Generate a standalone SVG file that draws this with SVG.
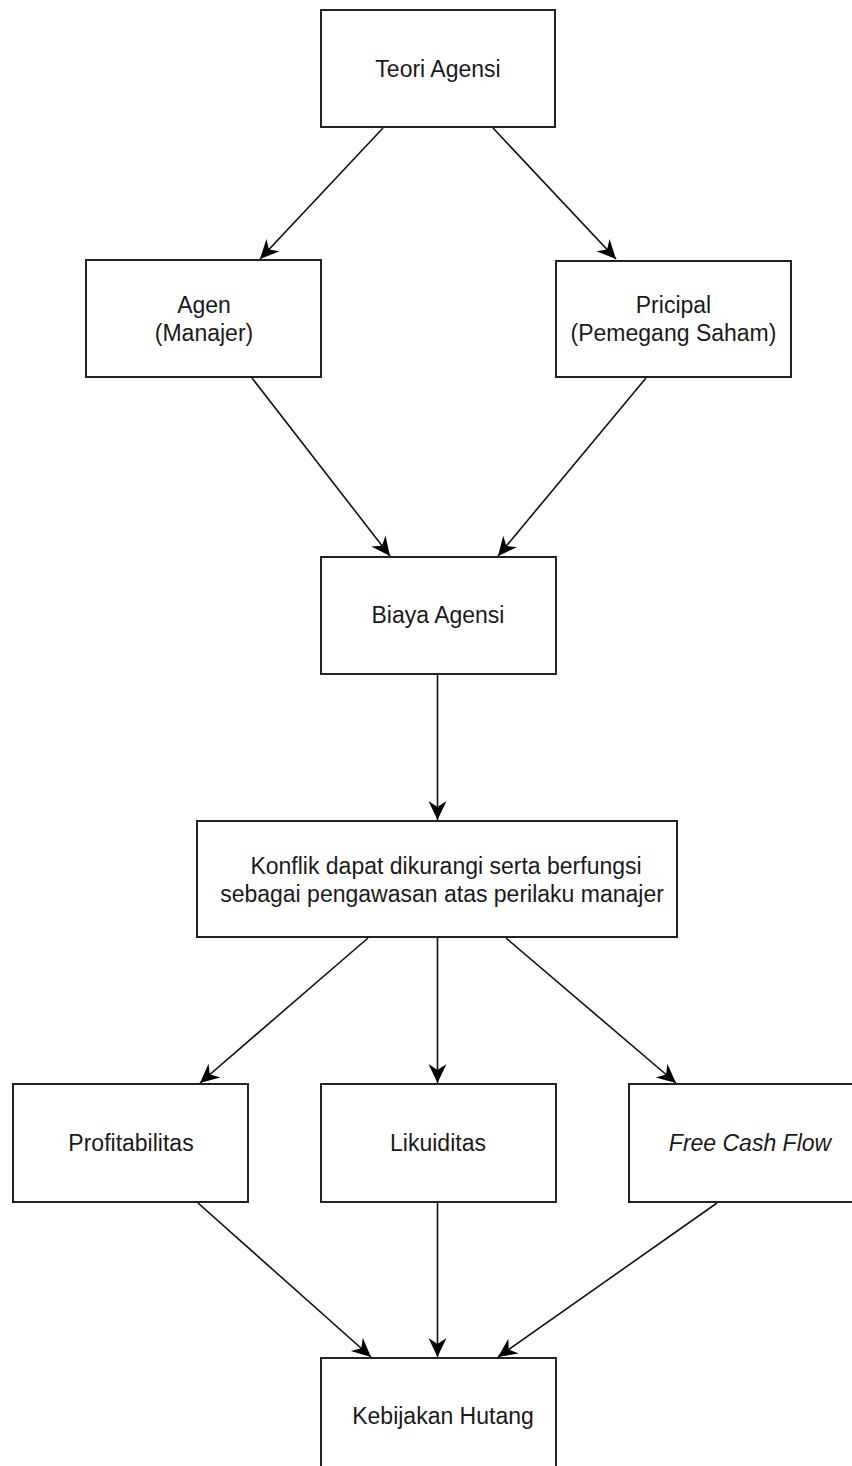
<svg xmlns="http://www.w3.org/2000/svg" width="852" height="1466" viewBox="0 0 852 1466">
<style>
.box{fill:#ffffff;stroke:#222222;stroke-width:2}
.lbl{font-family:"Liberation Sans",Arial,sans-serif;font-size:23px;fill:#1a1a1a;text-anchor:middle}
.it{font-style:italic}
.edge{fill:none;stroke:#111111;stroke-width:1.6;marker-end:url(#arr)}
</style>
<defs>
<marker id="arr" markerUnits="userSpaceOnUse" viewBox="0 0 20 20" refX="19" refY="10" markerWidth="20" markerHeight="20" orient="auto">
<path d="M0,1 L19,10 L0,19 L6,10 Z" fill="#000000"/>
</marker>
</defs>
<rect width="852" height="1466" fill="#ffffff"/>
<g id="edges">
<line class="edge" x1="383" y1="128" x2="260" y2="259"/>
<line class="edge" x1="493" y1="128" x2="616" y2="259"/>
<line class="edge" x1="252" y1="378" x2="390" y2="556"/>
<line class="edge" x1="646" y1="378" x2="498" y2="556"/>
<line class="edge" x1="437.5" y1="675" x2="437.5" y2="820"/>
<line class="edge" x1="368" y1="938" x2="200" y2="1083"/>
<line class="edge" x1="437.5" y1="938" x2="437.5" y2="1083"/>
<line class="edge" x1="506" y1="938" x2="676" y2="1083"/>
<line class="edge" x1="198" y1="1203" x2="371" y2="1357"/>
<line class="edge" x1="437.5" y1="1203" x2="437.5" y2="1357"/>
<line class="edge" x1="717" y1="1203" x2="498" y2="1357"/>
</g>
<g id="teori"><rect class="box" x="321" y="10" width="234" height="117"/><text class="lbl" x="438" y="77">Teori Agensi</text></g>
<g id="agen"><rect class="box" x="86" y="260" width="235" height="117"/><text class="lbl" x="204" y="313">Agen</text><text class="lbl" x="204" y="341">(Manajer)</text></g>
<g id="pricipal"><rect class="box" x="556" y="261" width="235" height="116"/><text class="lbl" x="673.5" y="313">Pricipal</text><text class="lbl" x="673.5" y="341">(Pemegang Saham)</text></g>
<g id="biaya"><rect class="box" x="321" y="557" width="235" height="117"/><text class="lbl" x="438" y="623">Biaya Agensi</text></g>
<g id="konflik"><rect class="box" x="197" y="821" width="480" height="116"/><text class="lbl" x="446" y="874">Konflik dapat dikurangi serta berfungsi</text><text class="lbl" x="442" y="902">sebagai pengawasan atas perilaku manajer</text></g>
<g id="profitabilitas"><rect class="box" x="13" y="1084" width="235" height="118"/><text class="lbl" x="131" y="1151">Profitabilitas</text></g>
<g id="likuiditas"><rect class="box" x="321" y="1084" width="235" height="118"/><text class="lbl" x="438" y="1151">Likuiditas</text></g>
<g id="fcf"><rect class="box" x="629" y="1084" width="235" height="118"/><text class="lbl it" x="750" y="1151">Free Cash Flow</text></g>
<g id="kebijakan"><rect class="box" x="321" y="1358" width="235" height="117"/><text class="lbl" x="443" y="1424">Kebijakan Hutang</text></g>
</svg>
